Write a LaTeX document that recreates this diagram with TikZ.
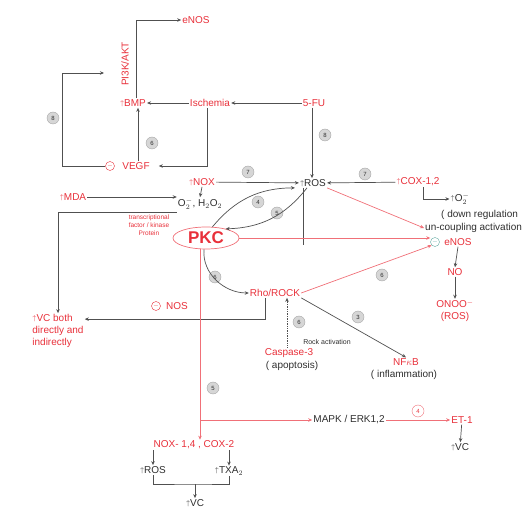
\documentclass[tikz,border=0pt]{standalone}
\usepackage{fontspec}
\setmainfont{Liberation Sans}
\usetikzlibrary{arrows.meta,positioning,shapes.geometric}
\definecolor{ink}{HTML}{2E2E2E}
\definecolor{hot}{HTML}{E8303A}
\definecolor{hotline}{HTML}{F07078}
\definecolor{wire}{HTML}{505050}
\definecolor{tag}{HTML}{D6D6D6}
\definecolor{mint}{HTML}{5FA8A0}
\newcommand{\upar}{\raisebox{1pt}{\scriptsize$\uparrow$}}

\begin{document}
\begin{tikzpicture}[
  x=1pt, y=-1pt,
  font=\fontsize{10}{12}\selectfont,
  hl/.style={text=hot,inner sep=1pt},
  blk/.style={text=ink,inner sep=1pt},
  sm/.style={font=\fontsize{7}{8}\selectfont},
  num/.style={circle,draw=gray!70,fill=tag,inner sep=0pt,minimum size=12pt,
              font=\fontsize{6}{6}\selectfont,text=ink},
  sgn/.style={circle,draw=hot,inner sep=0pt,minimum size=9pt,
              font=\fontsize{6}{6}\selectfont,text=hot},
  arr/.style={-{Stealth[length=4pt,width=3.5pt]},draw=wire,line width=0.7pt},
  rarr/.style={arr,draw=hotline},
  wirel/.style={draw=wire,line width=0.7pt},
]
\useasboundingbox (0,0) rectangle (530,526);

% --- top: BMP / ischemia loop ------------------------------------------
\node[hl] (enosT) at (196,20) {eNOS};
\node[hl,rotate=90] (pi3k) at (125,64) {PI3K/AKT};
\node[hl] (bmp)  at (133,103) {\upar BMP};
\node[hl] (isch) at (210,103) {Ischemia};
\node[hl] (fu)   at (314,103) {5-FU};
\node[hl] (vegf) at (136,166) {VEGF};
\node[sgn] (vsg) at (110,166) {$-$};
\coordinate (loopend) at (104,73);

% --- row: NOX / ROS / COX ----------------------------------------------
\node[hl]  (nox)  at (202,182) {\upar NOX};
\node[blk] (ros)  at (313,183) {\upar ROS};
\node[hl]  (cox)  at (418,182) {\upar COX-1,2};
\node[blk] (o2)   at (460,199) {\upar O$_2^-$};
\node[blk,anchor=west] (dreg)   at (440,215) {( down regulation};
\node[blk,anchor=west] (uncoup) at (424,228) {un-coupling activation};
\node[hl]  (mda)  at (73,197) {\upar MDA};
\node[blk] (oxy)  at (200,204) {O$_2^-$, H$_2$O$_2$};

% --- PKC and its right side --------------------------------------------
\node[hl,align=center,font=\fontsize{6.5}{8}\selectfont] (tf) at (149,225)
      {transcriptional\\factor / kinase\\Protein};
\node[ellipse,draw=hotline,text=hot,line width=0.7pt,minimum width=66pt,
      minimum height=22pt,inner sep=0pt,font=\fontsize{17}{17}\selectfont\bfseries]
      (pkc) at (206,238) {PKC};
\node[sgn,draw=mint,text=mint] (esg) at (435,242) {$-$};
\node[hl]  (enos) at (458,242) {eNOS};
\node[hl]  (no)   at (455,272) {NO};
\node[hl,align=center] (onoo) at (455,311) {ONOO$^-$ \\ (ROS)};

% --- middle: Rho/ROCK ---------------------------------------------------
\node[hl]  (rho)  at (275,293) {Rho/ROCK};
\node[sgn] (nsg)  at (156,306) {$-$};
\node[hl]  (nos)  at (177,306) {NOS};
\node[hl,align=left] (vc1) at (58,331) {\upar VC both\\directly and\\indirectly};
\node[hl]  (casp) at (289,353) {Caspase-3};
\node[blk] (apop) at (292,366) {( apoptosis)};
\node[blk,sm] (rockact) at (327,342) {Rock activation};
\node[hl]  (nfkb) at (406,362) {NF$\kappa$B};
\node[blk] (infl) at (404,375) {( inflammation)};

% --- bottom --------------------------------------------------------------
\node[blk] (mapk)   at (349,420) {MAPK / ERK1,2};
\node[hl]  (et1)    at (462,420) {ET-1};
\node[blk] (vc2)    at (460,447) {\upar VC};
\node[hl]  (noxcox) at (194,445) {NOX- 1,4 , COX-2};
\node[blk] (ros2)   at (153,470) {\upar ROS};
\node[blk] (txa)    at (229,471) {\upar TXA$_2$};
\node[blk] (vc3)    at (195,503) {\upar VC};
\coordinate (brk) at (195,484);

% --- step numbers --------------------------------------------------------
\node[num] (n1)  at (53,118)  {8};
\node[num] (n2)  at (152,143) {6};
\node[num] (n3)  at (325,135) {8};
\node[num] (n4)  at (248,172) {7};
\node[num] (n5)  at (365,174) {7};
\node[num] (n6)  at (258,202) {4};
\node[num] (n7)  at (277,213) {5};
\node[num] (n8)  at (215,277) {6};
\node[num] (n9)  at (382,275) {6};
\node[num] (n10) at (358,317) {3};
\node[num] (n11) at (299,322) {6};
\node[num] (n12) at (213,388) {5};
\node[num,draw=hotline,fill=white,text=hot] (n13) at (418,411) {4};

% --- black connectors ----------------------------------------------------
\draw[arr] ([xshift=3pt]bmp.north) |- (enosT.west);
\draw[arr] (vsg.west) -- ++(-43,0) |- (loopend);
\draw[arr] ([xshift=2pt]vegf.north) -- ([xshift=2pt]vegf.north |- bmp.south);
\draw[arr] (isch) -- (bmp);
\draw[arr] (fu) -- (isch);
\draw[arr] ([xshift=-3pt]isch.south) |- ([xshift=8pt]vegf.east);
\draw[arr] ([xshift=-2pt]fu.south) -- ([xshift=-2pt]fu.south |- ros.north);
\draw[arr] (nox) -- (ros);
\draw[arr] (cox) -- (ros);
\draw[arr] ([xshift=5pt]cox.south) |- (o2.west);
\draw[arr] (nox.south) -- (oxy.north);
\draw[arr] (mda.east) -- (mda.east -| oxy.west);
\draw[arr] ([yshift=-2pt]oxy.south west) -| (vc1.north);
\draw[arr] (pkc.60) to[bend left=25] ([xshift=-4pt]ros.south west);
\draw[arr] ([xshift=-6pt]ros.south) to[bend left=25] (pkc.25);
\draw[wirel] ([xshift=-10pt]ros.south) -- ++(0,57);
\draw[arr] ([xshift=-2pt]pkc.south) to[out=-95,in=180] (rho.west);
\draw[arr] ([xshift=-10pt]rho.south) |- ([yshift=-6pt]vc1.north east);
\draw[arr,densely dotted] ([xshift=-2pt]casp.north) -- ([xshift=-2pt]casp.north |- rho.south);
\draw[arr] (rho.south east) -- (nfkb.north);
\draw[arr] (enos.south) -- (no.north);
\draw[arr] (no.south) -- (onoo.north);
\draw[arr] (et1) -- (vc2);
\draw[arr] (noxcox.south -| ros2) -- (ros2.north);
\draw[arr] (noxcox.south -| txa) -- (txa.north);
\draw[wirel] (ros2.south) |- (brk) -| (txa.south);
\draw[arr] (brk) -- (vc3.north);

% --- red connectors ------------------------------------------------------
\draw[rarr] (ros.south east) -- (uncoup.west);
\draw[rarr] (pkc.east) -- (pkc.east -| esg.west);
\draw[rarr] (rho.east) -- (esg.south west);
\draw[rarr] ([xshift=-6pt]pkc.south) -- ([xshift=-6pt]pkc.south |- noxcox.north);
\draw[rarr] ([xshift=-6pt]pkc.south |- mapk.west) -- (mapk.west);
\draw[rarr] (mapk) -- (et1);
\end{tikzpicture}
\end{document}
